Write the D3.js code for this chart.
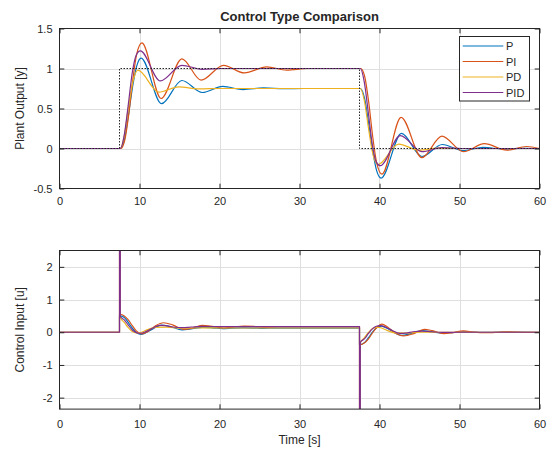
<!DOCTYPE html>
<html><head><meta charset="utf-8">
<script src="https://cdn.jsdelivr.net/npm/d3@7"></script>
<style>
body{margin:0;background:#fff}
svg{display:block}
text{font-family:"Liberation Sans",Arial,Helvetica,sans-serif;fill:#262626}
</style>
</head><body>
<svg id="c" width="559" height="456"></svg>
<script>
// ---------- data ----------
const seriesNames = ["P", "PI", "PD", "PID"];
const xTicks = [0, 10, 20, 30, 40, 50, 60];
const yTicksTop = [-0.5, 0, 0.5, 1, 1.5];
const yTicksBot = [-2, -1, 0, 1, 2];

// reference signal
const refT = [0, 7.5, 7.5, 37.5, 37.5, 60];
const refV = [0, 0, 1, 1, 0, 0];

// plant output y
const yP_t = [0, 7.6, 8.15, 8.65, 9.15, 9.65, 10.2, 12.75, 15.3, 17.85, 20.4, 22.95, 25.5, 28.05, 30.6, 37.6, 38.15, 38.65, 39.15, 39.65, 40.2, 42.75, 45.3, 47.85, 50.4, 52.95, 55.5, 58.05, 60];
const yP_v = [0, 0, 0.13, 0.44, 0.78, 1.03, 1.13, 0.56, 0.85, 0.70, 0.776, 0.737, 0.757, 0.747, 0.75, 0.75, 0.62, 0.31, -0.03, -0.28, -0.37, 0.19, -0.10, 0.05, -0.026, 0.013, -0.007, 0.003, 0];

const yPI_t = [0, 7.65, 8.15, 8.65, 9.15, 9.65, 10.3, 12.7, 15.3, 17.7, 20.5, 23.1, 25.9, 28.4, 31, 37.65, 38.15, 38.65, 39.15, 39.65, 40.3, 42.7, 45.3, 47.8, 50.5, 53.1, 55.9, 58.4, 60];
const yPI_v = [0, 0, 0.10, 0.42, 0.85, 1.18, 1.32, 0.625, 1.12, 0.855, 1.04, 0.945, 1.02, 0.98, 1.0, 1.0, 0.90, 0.58, 0.15, -0.18, -0.32, 0.39, -0.115, 0.155, -0.04, 0.06, -0.02, 0.025, 0.0];

const yPD_t = [0, 7.6, 8.1, 8.6, 9.1, 9.8, 12.4, 14.9, 17.4, 20, 37.6, 38.1, 38.6, 39.1, 39.8, 42.4, 44.9, 47.4, 50, 60];
const yPD_v = [0, 0, 0.16, 0.50, 0.80, 0.98, 0.705, 0.77, 0.745, 0.75, 0.75, 0.60, 0.27, -0.04, -0.20, 0.055, -0.02, 0.005, 0, 0];

const yPID_t = [0, 7.6, 8.1, 8.6, 9.1, 9.6, 10.1, 12.6, 15.3, 17.8, 20.3, 37.6, 38.1, 38.6, 39.1, 39.6, 40.1, 42.6, 45.3, 47.8, 50.3, 60];
const yPID_v = [0, 0, 0.17, 0.55, 0.95, 1.17, 1.22, 0.845, 1.04, 0.99, 1.0, 1.0, 0.83, 0.45, 0.05, -0.17, -0.215, 0.16, -0.04, 0.01, 0, 0];

// control input u
const uP_t = [0, 7.5, 7.501, 7.6, 8.15, 8.65, 9.15, 9.65, 10.2, 11.5, 12.75, 14.0, 15.3, 16.6, 17.85, 19.1, 20.4, 21.7, 22.95, 24.2, 25.5, 26.8, 28.05, 30, 37.5, 37.501, 37.6, 38.15, 38.65, 39.15, 39.65, 40.2, 41.5, 42.75, 44, 45.3, 46.6, 47.85, 49.1, 50.4, 52.95, 55.5, 60];
const uP_v = [0, 0, 0.5, 0.5, 0.44, 0.28, 0.11, -0.015, -0.065, 0.08, 0.22, 0.16, 0.075, 0.11, 0.15, 0.135, 0.112, 0.125, 0.132, 0.128, 0.118, 0.127, 0.128, 0.128, 0.128, -0.375, -0.375, -0.31, -0.155, 0.015, 0.14, 0.19, 0.045, -0.095, -0.035, 0.05, 0.015, -0.025, -0.01, 0.013, -0.006, 0.003, 0];

const uPI_t = [0, 7.5, 7.501, 7.6, 8.1, 8.6, 9.1, 9.6, 10.3, 11.0, 12.0, 13.0, 14.2, 15.5, 16.5, 17.8, 18.8, 20.5, 21.8, 23.1, 24.5, 25.9, 27.1, 28.4, 31, 37.5, 37.501, 37.6, 38.1, 38.6, 39.1, 39.6, 40.3, 41.0, 42.0, 43.0, 44.2, 45.6, 46.6, 48.0, 49.0, 50.5, 51.8, 53.1, 54.5, 55.9, 58.4, 60];
const uPI_v = [0, 0, 0.55, 0.55, 0.50, 0.38, 0.20, 0.04, -0.05, 0.02, 0.20, 0.29, 0.22, 0.09, 0.12, 0.21, 0.19, 0.13, 0.165, 0.185, 0.175, 0.158, 0.168, 0.175, 0.17, 0.17, -0.38, -0.38, -0.33, -0.21, -0.03, 0.13, 0.25, 0.16, -0.03, -0.11, -0.05, 0.09, 0.05, -0.04, -0.02, 0.045, 0.005, -0.015, -0.005, 0.015, -0.005, 0];

const uPD_t = [0, 7.5, 7.501, 7.6, 7.601, 8.1, 8.6, 9.1, 9.6, 10.0, 11.0, 12.0, 13.4, 15.0, 16.5, 18, 20, 37.5, 37.501, 37.6, 37.601, 38.1, 38.6, 39.1, 39.6, 40.0, 41.0, 42.0, 43.4, 45.0, 46.5, 48, 50, 60];
const uPD_v = [0, 0, 40, 40, 0.45, 0.30, 0.14, 0.02, -0.02, -0.015, 0.08, 0.15, 0.155, 0.125, 0.13, 0.132, 0.13, 0.13, -40, -40, -0.32, -0.17, -0.01, 0.11, 0.15, 0.145, 0.05, -0.02, -0.025, 0.005, 0, -0.002, 0, 0];

const uPID_t = [0, 7.5, 7.501, 7.6, 7.601, 8.1, 8.6, 9.1, 9.6, 10.1, 10.8, 11.6, 12.5, 13.3, 14.2, 15.3, 16.5, 17.8, 20, 37.5, 37.501, 37.6, 37.601, 38.1, 38.6, 39.1, 39.6, 40.1, 40.8, 41.6, 42.5, 43.3, 44.2, 45.3, 46.5, 47.8, 50, 60];
const uPID_v = [0, 0, 40, 40, 0.48, 0.38, 0.22, 0.07, -0.01, -0.03, 0.02, 0.12, 0.21, 0.20, 0.16, 0.14, 0.16, 0.178, 0.175, 0.175, -40, -40, -0.305, -0.205, -0.045, 0.105, 0.185, 0.205, 0.155, 0.055, -0.035, -0.025, 0.015, 0.035, 0.015, -0.003, 0, 0];

// ---------- drawing ----------
const colors = ["#0072BD", "#D95319", "#EDB120", "#7E2F8E"];
const svg = d3.select("#c");
const axisColor = "#262626";
const gridColor = "#dfdfdf";
const zip = (t, v) => t.map((d, i) => [d, v[i]]);

function panel(cfg) {
  const x = d3.scaleLinear().domain([0, 60]).range([59.5, 539.5]);
  const y = d3.scaleLinear().domain(cfg.ydom).range(cfg.yrange);
  const g = svg.append("g");
  const [x0, x1] = x.range();
  const [yb, yt] = y.range();
  g.append("g").selectAll("line").data(xTicks.filter(d => d > 0 && d < 60)).join("line")
    .attr("x1", d => Math.round(x(d)) + 0.5).attr("x2", d => Math.round(x(d)) + 0.5)
    .attr("y1", yt).attr("y2", yb).attr("stroke", gridColor).attr("stroke-width", 1);
  g.append("g").selectAll("line").data(cfg.yticks.filter(d => y(d) > yt + 1 && y(d) < yb - 1)).join("line")
    .attr("x1", x0).attr("x2", x1)
    .attr("y1", d => Math.round(y(d)) + 0.5).attr("y2", d => Math.round(y(d)) + 0.5)
    .attr("stroke", gridColor).attr("stroke-width", 1);
  g.append("clipPath").attr("id", cfg.id).append("rect")
    .attr("x", x0).attr("y", yt).attr("width", x1 - x0).attr("height", yb - yt);
  const lines = g.append("g").attr("clip-path", `url(#${cfg.id})`);
  const line = d3.line().x(d => x(d[0])).y(d => y(d[1])).curve(d3.curveMonotoneX);
  cfg.series.forEach((s, i) => {
    lines.append("path").attr("d", line(s)).attr("fill", "none")
      .attr("stroke", colors[i]).attr("stroke-width", 1.2).attr("stroke-linejoin", "round");
  });
  if (cfg.ref) {
    const lin = d3.line().x(d => x(d[0])).y(d => y(d[1]));
    lines.append("path").attr("d", lin(cfg.ref)).attr("fill", "none")
      .attr("stroke", "#262626").attr("stroke-width", 1).attr("stroke-dasharray", "1.5,1.5");
  }
  const tl = 4.8;
  const ax = g.append("g").attr("transform", `translate(0,${yb})`)
    .call(d3.axisBottom(x).tickValues(xTicks).tickSizeInner(-tl).tickSizeOuter(0).tickPadding(cfg.xpad).tickFormat(d3.format("d")));
  const axt = g.append("g").attr("transform", `translate(0,${yt})`)
    .call(d3.axisTop(x).tickValues(xTicks).tickSizeInner(-tl).tickSizeOuter(0).tickFormat(""));
  const ay = g.append("g").attr("transform", `translate(${x0},0)`)
    .call(d3.axisLeft(y).tickValues(cfg.yticks).tickSizeInner(-tl).tickSizeOuter(0).tickPadding(7).tickFormat(d => String(d)));
  const ayr = g.append("g").attr("transform", `translate(${x1},0)`)
    .call(d3.axisRight(y).tickValues(cfg.yticks).tickSizeInner(-tl).tickSizeOuter(0).tickFormat(""));
  [ax, axt, ay, ayr].forEach(a => {
    a.select(".domain").remove();
    a.selectAll(".tick line").attr("stroke", axisColor);
    a.selectAll("text").attr("font-size", 11).attr("fill", axisColor)
      .style("font-family", '"Liberation Sans",Arial,Helvetica,sans-serif');
  });
  g.append("rect").attr("x", x0).attr("y", yt).attr("width", x1 - x0).attr("height", yb - yt)
    .attr("fill", "none").attr("stroke", axisColor).attr("stroke-width", 1);
  g.append("text").attr("transform", `translate(24,${(yt + yb) / 2}) rotate(-90)`)
    .attr("text-anchor", "middle").attr("font-size", 12).text(cfg.ylabel);
  return { x, y, g };
}

const topPanel = panel({
  id: "clipTop", ydom: [-0.5, 1.5], yrange: [188.5, 28.5], yticks: yTicksTop, xpad: 9,
  ylabel: "Plant Output [y]",
  series: [zip(yP_t, yP_v), zip(yPI_t, yPI_v), zip(yPD_t, yPD_v), zip(yPID_t, yPID_v)],
  ref: zip(refT, refV)
});
const botPanel = panel({
  id: "clipBot", ydom: [-2.35, 2.5], yrange: [409.1, 250.5], yticks: yTicksBot, xpad: 11,
  ylabel: "Control Input [u]",
  series: [zip(uP_t, uP_v), zip(uPI_t, uPI_v), zip(uPD_t, uPD_v), zip(uPID_t, uPID_v)]
});

svg.append("text").attr("x", 299.5).attr("y", 21).attr("text-anchor", "middle")
  .attr("font-size", 13).attr("font-weight", "bold").text("Control Type Comparison");
svg.append("text").attr("x", 299.5).attr("y", 444).attr("text-anchor", "middle")
  .attr("font-size", 12).text("Time [s]");

const lg = svg.append("g");
lg.append("rect").attr("x", 459.5).attr("y", 36.5).attr("width", 70).attr("height", 64.5)
  .attr("fill", "#fff").attr("stroke", axisColor).attr("stroke-width", 1);
seriesNames.forEach((n, i) => {
  const yy = 46 + i * 15.5;
  lg.append("line").attr("x1", 462.7).attr("x2", 503.3).attr("y1", yy).attr("y2", yy)
    .attr("stroke", colors[i]).attr("stroke-width", 1.2);
  lg.append("text").attr("x", 506).attr("y", yy + 4).attr("font-size", 11).text(n);
});
</script>
</body></html>
